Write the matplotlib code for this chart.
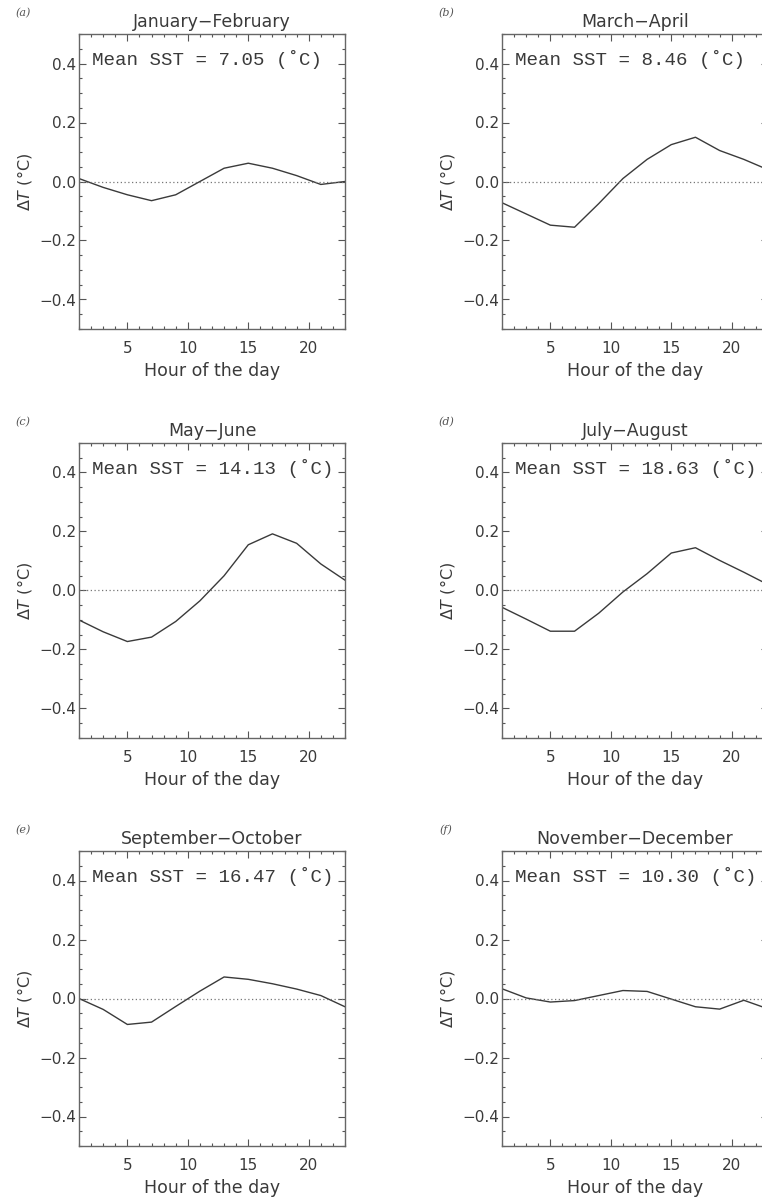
import numpy as np
import matplotlib
matplotlib.use('Agg')
matplotlib.rcParams['xtick.direction'] = 'in'
matplotlib.rcParams['ytick.direction'] = 'in'
import matplotlib.pyplot as plt
from matplotlib.ticker import MultipleLocator

# diurnal anomaly, sampled every two hours
hours = [1, 3, 5, 7, 9, 11, 13, 15, 17, 19, 21, 23]

titles = ['January\u2212February', 'March\u2212April', 'May\u2212June',
          'July\u2212August', 'September\u2212October', 'November\u2212December']
letters = ['(a)', '(b)', '(c)', '(d)', '(e)', '(f)']
mean_sst = [7.05, 8.46, 14.13, 18.63, 16.47, 10.30]

dT_jan_feb = [0.01, -0.02, -0.045, -0.065, -0.045, 0.0, 0.045, 0.062, 0.045, 0.02, -0.01, 0.0]
dT_mar_apr = [-0.072, -0.11, -0.148, -0.155, -0.075, 0.01, 0.075, 0.125, 0.15, 0.105, 0.075, 0.04]
dT_may_jun = [-0.10, -0.14, -0.173, -0.158, -0.105, -0.035, 0.05, 0.155, 0.192, 0.16, 0.09, 0.035]
dT_jul_aug = [-0.057, -0.097, -0.138, -0.138, -0.077, -0.005, 0.057, 0.127, 0.145, 0.102, 0.062, 0.02]
dT_sep_oct = [0.0, -0.037, -0.088, -0.08, -0.027, 0.025, 0.073, 0.065, 0.05, 0.032, 0.01, -0.028]
dT_nov_dec = [0.033, 0.002, -0.012, -0.007, 0.01, 0.027, 0.024, -0.002, -0.028, -0.036, -0.006, -0.035]

series = [dT_jan_feb, dT_mar_apr, dT_may_jun, dT_jul_aug, dT_sep_oct, dT_nov_dec]

W, H = 762, 1199
fig = plt.figure(figsize=(W / 100, H / 100), dpi=100)

col_left = [79, 502]
row_top = [34, 443, 851]
aw, ah = 266, 295
ink = '#3a3a3a'

for i in range(6):
    r, c = divmod(i, 2)
    x0 = col_left[c]
    y0 = row_top[r]
    ax = fig.add_axes([x0 / W, 1 - (y0 + ah) / H, aw / W, ah / H])
    ax.plot(hours, series[i], color=ink, lw=1.0)
    ax.axhline(0, color='#777777', lw=0.9, ls=(0, (1, 2)))
    ax.set_xlim(1, 23)
    ax.set_ylim(-0.5, 0.5)
    ax.set_xticks([5, 10, 15, 20])
    ax.set_yticks([-0.4, -0.2, 0.0, 0.2, 0.4])
    ax.set_yticklabels(['\u22120.4', '\u22120.2', '0.0', '0.2', '0.4'])
    ax.xaxis.set_minor_locator(MultipleLocator(1))
    ax.yaxis.set_minor_locator(MultipleLocator(0.05))
    ax.tick_params(which='both', top=True, right=True, colors='#555555',
                   labelcolor=ink, labelsize=11, width=0.8)
    ax.tick_params(which='major', length=5)
    ax.tick_params(which='minor', length=2.5)
    ax.tick_params(axis='y', which='major', pad=2)
    ax.tick_params(axis='x', which='major', pad=9)
    for s in ax.spines.values():
        s.set_color('#666666')
        s.set_linewidth(1.0)
    ax.set_title(titles[i], fontsize=12.5, color=ink, pad=5)
    ax.set_xlabel('Hour of the day', fontsize=12.5, color=ink, labelpad=4)
    ax.set_ylabel(r'$\Delta T$ ($\degree$C)', fontsize=11.5, color=ink)
    ax.yaxis.set_label_coords(-0.17, 0.5)
    ax.text(0.05, 0.912, 'Mean SST = %.2f (\u02daC)' % mean_sst[i],
            transform=ax.transAxes, family='Liberation Mono', fontsize=13.8,
            color=ink, va='center', ha='left')
    fig.text((x0 - 56) / W, 1 - (y0 - 21) / H, letters[i], family='DejaVu Serif',
             style='italic', fontsize=8, color='#555555', ha='center', va='center')

fig.savefig('out.png', dpi=100)
